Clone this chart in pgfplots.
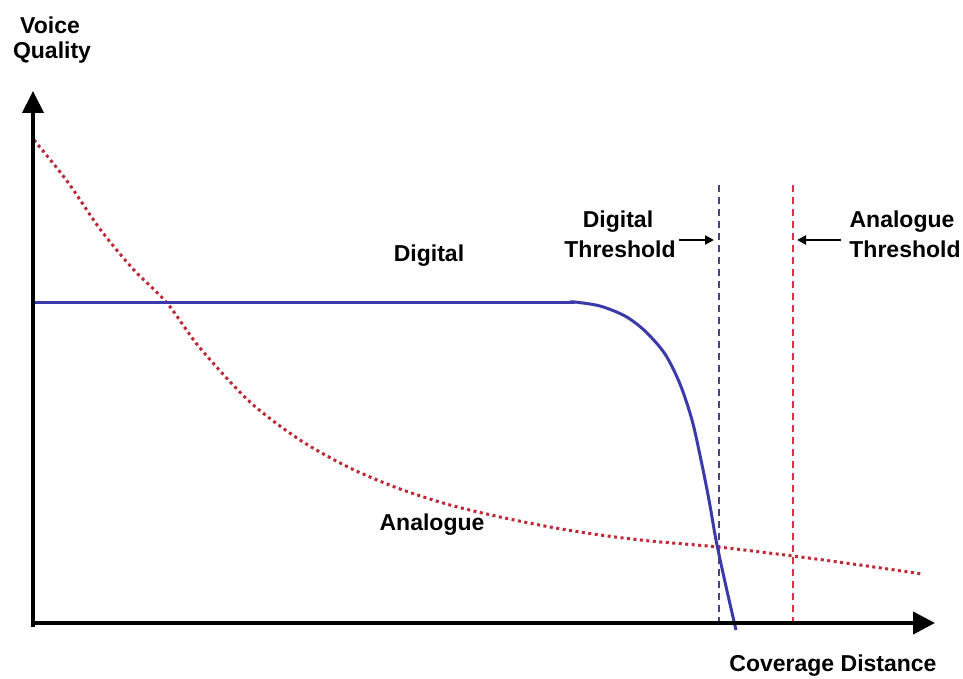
\documentclass[border=0pt]{standalone}
\usepackage{pgfplots}
\pgfplotsset{compat=1.18}
\usepackage{fontspec}
\setmainfont{Liberation Sans}
\usetikzlibrary{arrows.meta}
\definecolor{digblue}{RGB}{58,58,170}
\definecolor{anared}{RGB}{190,40,55}
\definecolor{thrpurple}{RGB}{75,65,125}
\definecolor{thrred}{RGB}{225,45,65}
\tikzset{lbl/.style={font=\bfseries\fontsize{23}{26}\selectfont, align=center, inner sep=0pt}}
\begin{document}
\begin{tikzpicture}
\begin{axis}[
  scale only axis,
  width=963pt, height=679pt,
  xmin=0, xmax=963, ymin=0, ymax=679,
  y dir=reverse,
  hide axis,
  clip=false,
]
% page frame
\addplot[draw=none] coordinates {(0,0) (963,679)};

% threshold lines
\addplot[thrpurple, line width=1.6pt, dash pattern=on 7pt off 5pt] coordinates {(719,185) (719,622)};
\addplot[thrred, line width=1.6pt, dash pattern=on 7pt off 5pt] coordinates {(793,185) (793,622)};

% analogue
\addplot[anared, line width=3pt, dash pattern=on 3pt off 3.5pt, smooth, tension=0.5] coordinates {
  (34,140) (67,181) (100,229) (133,269) (167,303) (200,348) (250,402)
  (300,440) (350,468) (400,489) (450,505) (500,517) (550,527) (600,535)
  (650,541) (718,547) (793,556) (860,565) (922,574)};

% digital
\addplot[digblue, line width=3pt] coordinates {(33,302) (575,302)};
\addplot[digblue, line width=3pt, smooth, tension=0.5] coordinates {
  (570,302) (575,302) (600,306) (625,316) (645,331) (665,354) (680,384)
  (692,420) (701,460) (709,500) (716,540) (725,582) (736,630)};

% axes
\addplot[black, line width=4pt, -{Triangle[length=22pt,width=21pt]}] coordinates {(33,627) (33,91)};
\addplot[black, line width=4pt, -{Triangle[length=22pt,width=22pt]}] coordinates {(31,623) (935,623)};

% pointer arrows
\addplot[black, line width=2pt, -{Triangle[length=9pt,width=9pt]}] coordinates {(679,240) (714,240)};
\addplot[black, line width=2pt, -{Triangle[length=9pt,width=9pt]}] coordinates {(841,240) (797,240)};

% labels
\node[lbl] at (axis cs:50,25) {Voice};
\node[lbl] at (axis cs:52,53) {Quality};
\node[lbl] at (axis cs:833,666) {Coverage Distance};
\node[lbl] at (axis cs:429,256) {Digital};
\node[lbl] at (axis cs:432,525) {Analogue};
\node[lbl] at (axis cs:618,222) {Digital};
\node[lbl] at (axis cs:620,249) {Threshold};
\node[lbl] at (axis cs:902,222) {Analogue};
\node[lbl] at (axis cs:905,249) {Threshold};
\end{axis}
\end{tikzpicture}
\end{document}
